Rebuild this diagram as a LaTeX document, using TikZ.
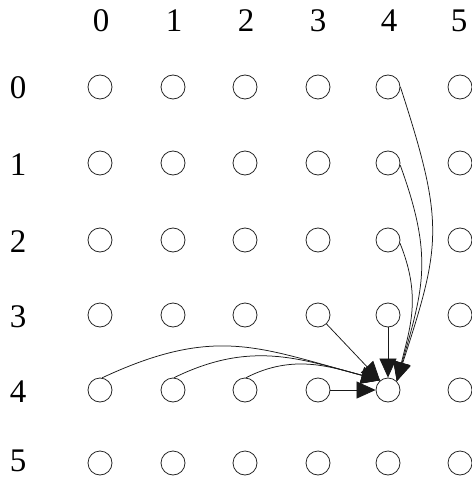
\documentclass[tikz,border=0pt]{standalone}
\usepackage{fontspec}
\setmainfont{Liberation Serif}
\usetikzlibrary{arrows.meta}
\begin{document}
\begin{tikzpicture}[x=1pt,y=-1pt,
  dot/.style={circle,draw=black!85,line width=0.8pt,minimum size=24pt,inner sep=0pt},
  lab/.style={font=\fontsize{33}{35}\selectfont,inner sep=0pt},
  arr/.style={draw=black!90,line width=0.75pt,-{Triangle[length=19pt,width=17pt]}}]
\useasboundingbox (0,0) rectangle (471,478);
\def\colx{{100,173,245,318,388,460}}
\def\rowy{{87,163,240,315,390,463}}
\def\laby{{88,165,242,317,392,461}}
\def\labx{{101,174,246,318,389,459}}
\foreach \c in {0,...,5}{
  \pgfmathsetmacro{\xx}{\labx[\c]}
  \node[lab] (c\c) at (\xx,21) {\c};
}
\foreach \r in {0,...,5}{
  \pgfmathsetmacro{\yy}{\rowy[\r]}
  \pgfmathsetmacro{\ly}{\laby[\r]}
  \node[lab] (r\r) at (18,\ly) {\r};
  \foreach \c in {0,...,5}{
    \pgfmathsetmacro{\xx}{\colx[\c]}
    \node[dot] (n\r\c) at (\xx,\yy) {};
  }
}
% straight arrows
\draw[arr] (n34) -- (n44);
\draw[arr] (n33) -- (n44.130);
\draw[arr] (n43) -- (n44);
% curves from the left
\draw[arr] (n40.80) to[out=25,in=165,looseness=1.15] (n44.128);
\draw[arr] (n41.85) to[out=26,in=165,looseness=1.05] (n44.128);
\draw[arr] (n42.85) to[out=27,in=165] (n44.128);
% curves from above
\draw[arr] (n04.east) to[out=-72,in=72,looseness=1.25] (n44.45);
\draw[arr] (n14.-10) to[out=-70,in=74,looseness=1.15] (n44.45);
\draw[arr] (n24.-15) to[out=-68,in=76,looseness=1.05] (n44.45);
\end{tikzpicture}
\end{document}
